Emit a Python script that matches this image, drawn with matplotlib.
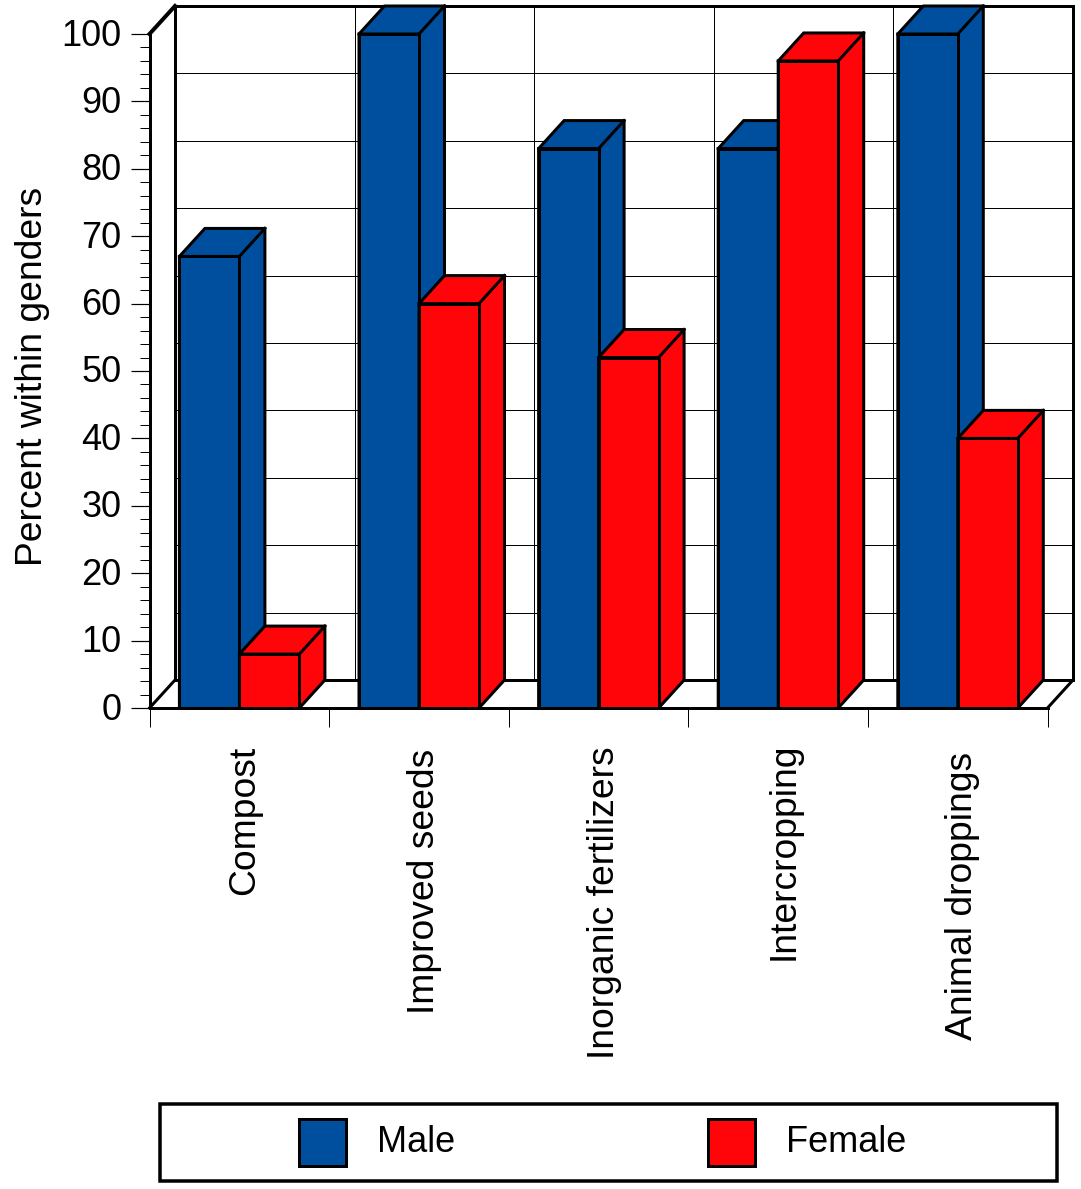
import matplotlib
matplotlib.use("Agg")
import matplotlib.pyplot as plt
from matplotlib.patches import Polygon, Rectangle
from matplotlib.transforms import ScaledTranslation

plt.rcParams['font.family'] = ['Liberation Sans', 'DejaVu Sans']

categories = ["Compost", "Improved seeds", "Inorganic fertilizers", "Intercropping", "Animal droppings"]
male = [67, 100, 83, 83, 100]
female = [8, 60, 52, 96, 40]
y_ticks = [0, 10, 20, 30, 40, 50, 60, 70, 80, 90, 100]

BLUE = '#004F9E'
RED = '#FF0509'
W, H = 1081, 1189
PX = 0.72  # one pixel in points at dpi 100

fig = plt.figure(figsize=(W / 100, H / 100), dpi=100)
fig.patch.set_facecolor('white')

# front plane of the 3d box, given in pixels
left, right, bottom, top = 149.5, 1047.5, 708, 34
ax = fig.add_axes([left / W, 1 - bottom / H, (right - left) / W, (bottom - top) / H])
ax.set_xlim(0, 5)
ax.set_ylim(0, 100)
ax.patch.set_visible(False)

# depth of the box in data units
dx = 25.5 / ((right - left) / 5)
dy = 28 / ((bottom - top) / 100)
n = len(categories)


def poly(pts, color, lw=3, z=3):
    ax.add_patch(Polygon(pts, closed=True, facecolor=color, edgecolor='black',
                         linewidth=lw * PX, joinstyle='miter', clip_on=False, zorder=z))


def line(xs, ys, lw=1, z=1):
    ax.plot(xs, ys, color='black', linewidth=lw * PX, clip_on=False, zorder=z,
            solid_capstyle='projecting')


# back wall grid
for v in y_ticks[1:-1]:
    line([dx, n + dx], [v + dy, v + dy])
for i in range(1, n):
    line([i + dx, i + dx], [dy, 100 + dy])

# walls and floor outline
line([dx, dx], [dy, 100 + dy], 3, 2)
line([dx, n + dx], [100 + dy, 100 + dy], 3, 2)
line([n + dx, n + dx], [dy, 100 + dy], 3, 2)
line([dx, n + dx], [dy, dy], 3, 2)
line([0, dx], [100, 100 + dy], 4, 2)
line([0, dx], [0, dy], 3, 2)
line([n, n + dx], [0, dy], 3, 2)


def bar3d(x0, x1, v, color):
    poly([(x0, 0), (x1, 0), (x1 + dx, dy), (x1 + dx, v + dy), (x0 + dx, v + dy), (x0, v)], color)
    line([x0, x1, x1 + dx], [v, v, v + dy], 3, 3)
    line([x1, x1], [0, v], 3, 3)
    poly([(x0, 0), (x1, 0), (x1, v), (x0, v)], color)


bar_w = 60 / ((right - left) / 5)
offset = 29.9 / ((right - left) / 5)
for i in range(n):
    bar3d(i + offset, i + offset + bar_w, male[i], BLUE)
    bar3d(i + offset + bar_w, i + offset + 2 * bar_w, female[i], RED)

# axes, ticks and labels
for side in ['top', 'right']:
    ax.spines[side].set_visible(False)
for side in ['left', 'bottom']:
    ax.spines[side].set_linewidth(3 * PX)
    ax.spines[side].set_zorder(5)

ax.set_yticks(y_ticks)
ax.set_yticks([v for v in range(0, 101, 2) if v % 10], minor=True)
ax.tick_params(axis='y', which='major', length=19 * PX, width=1.2 * PX, pad=9 * PX, labelsize=26)
ax.tick_params(axis='y', which='minor', length=10 * PX, width=1 * PX)
for lab in ax.get_yticklabels():
    lab.set_transform(lab.get_transform() + ScaledTranslation(0, 2 / 100, fig.dpi_scale_trans))

ax.set_xticks(range(n + 1))
ax.set_xticklabels([])
ax.tick_params(axis='x', which='major', length=19 * PX, width=1 * PX)

fig.text(33 / W, 1 - 376 / H, "Percent within genders", rotation=90, fontsize=26.8,
         ha='center', va='center')

# overlay in pixel coordinates for the category labels and legend box
lg = fig.add_axes([0, 0, 1, 1], facecolor='none')
lg.set_xlim(0, W)
lg.set_ylim(H, 0)
lg.axis('off')

# the labels are not evenly placed in the original
label_right = [254, 434, 614, 794, 972]
label_top = [746, 749, 746, 742, 752]
for name, lx, ly in zip(categories, label_right, label_top):
    lg.text(lx, ly, name, rotation=90, fontsize=26.8, ha='right', va='baseline',
            rotation_mode='anchor')

lg.add_patch(Rectangle((159.5, 1104), 897, 77, facecolor='white', edgecolor='black', linewidth=3.5 * PX))
lg.add_patch(Rectangle((299, 1119), 47, 47, facecolor=BLUE, edgecolor='black', linewidth=3 * PX))
lg.add_patch(Rectangle((708, 1119), 47, 47, facecolor=RED, edgecolor='black', linewidth=3 * PX))
lg.text(377, 1143, "Male", fontsize=26, va='center', ha='left')
lg.text(786, 1143, "Female", fontsize=26, va='center', ha='left')

fig.savefig('out.png', dpi=100)
